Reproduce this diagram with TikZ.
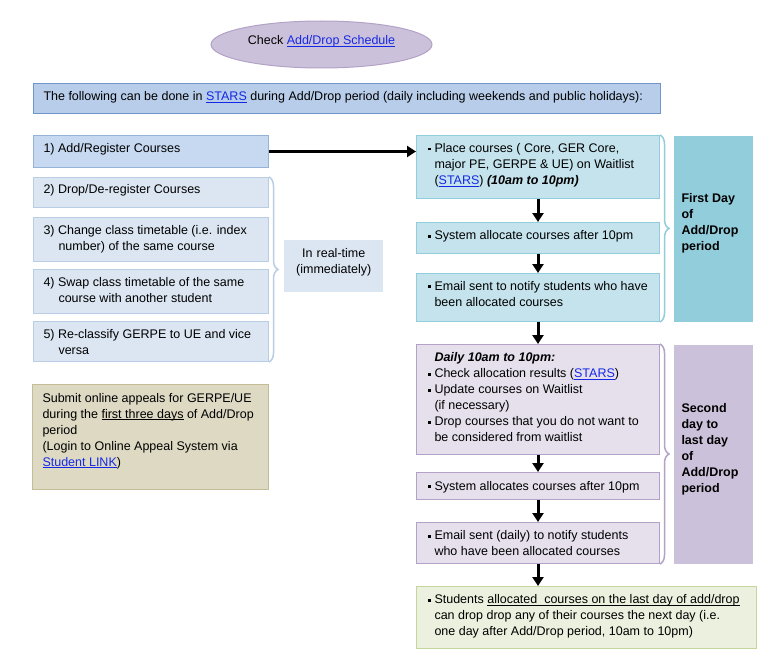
\documentclass[tikz,border=0pt]{standalone}
\usepackage{fontspec}
\setmainfont{Liberation Sans}
\usetikzlibrary{arrows.meta, shapes.geometric, decorations.pathreplacing}

\definecolor{linkblue}{RGB}{20,40,230}
\definecolor{topfill}{RGB}{183,205,234}
\definecolor{topline}{RGB}{110,150,205}
\definecolor{onefill}{RGB}{198,217,241}
\definecolor{oneline}{RGB}{149,179,215}
\definecolor{rtfill}{RGB}{220,230,242}
\definecolor{rtline}{RGB}{185,205,229}
\definecolor{apfill}{RGB}{221,217,195}
\definecolor{apline}{RGB}{196,189,151}
\definecolor{wlfill}{RGB}{196,227,236}
\definecolor{wlline}{RGB}{146,205,220}
\definecolor{dyfill}{RGB}{229,224,236}
\definecolor{dyline}{RGB}{179,162,199}
\definecolor{lavfill}{RGB}{204,193,218}
\definecolor{lsfill}{RGB}{235,241,222}
\definecolor{lsline}{RGB}{195,214,155}

\newcommand{\uln}[1]{\setbox0\hbox{#1}\rlap{\rule[-2pt]{\wd0}{0.7pt}}\box0\relax}
\newcommand{\lnk}[1]{\textcolor{linkblue}{\uln{#1}}}
\newcommand{\sq}{\makebox[7pt][l]{\rule[2pt]{3pt}{3pt}}}
\newcommand{\ind}{\hspace*{7pt}}
\newcommand{\nind}{\hspace*{15pt}}

\begin{document}
\begin{tikzpicture}[x=1pt, y=-1pt,
    every node/.style={font=\fontsize{12.5}{16}\selectfont},
    box/.style={draw, anchor=north west, align=flush left, line width=1pt,
      inner sep=0pt, execute at begin node={\leftskip=#1}},
    box/.default=10pt,
    regbox/.style={box, fill=rtfill, draw=rtline, text width=235pt},
    wlbox/.style={box=11pt, fill=wlfill, draw=wlline, text width=243pt},
    dybox/.style={box=11pt, fill=dyfill, draw=dyline, text width=243pt},
    sidebox/.style={box=8pt, draw=none, text width=79pt},
    flow/.style={line width=3pt, -{Triangle[width=11pt,length=9pt]}},
    curly/.style={decorate, decoration={brace, amplitude=9pt}, line width=1.5pt}]

  \path[fill=white] (0,0) rectangle (769,661);

  % Schedule bubble and heading
  \node[ellipse, draw=dyline, fill=lavfill, line width=1pt, minimum width=221pt,
    minimum height=47pt, text height=10pt, text depth=10pt] (sched) at (321.5,44.5)
    {Check \lnk{Add/Drop Schedule}};

  \node[box, fill=topfill, draw=topline, text width=627pt, text height=17.5pt,
    text depth=12.5pt] (head) at (33,83)
    {The following can be done in \lnk{STARS} during Add/Drop period (daily including weekends and public holidays):};

  % Left column
  \node[box, fill=onefill, draw=oneline, text width=235pt, text height=17pt,
    text depth=15pt] (b1) at (33,135) {1) Add/Register Courses};
  \node[regbox, text height=16pt, text depth=14pt] (b2) at (33,177)
    {2) Drop/De-register Courses};
  \node[regbox, text height=17pt, text depth=27pt] (b3) at (33,217)
    {3) Change class timetable (i.e. index\\ \nind number) of the same course};
  \node[regbox, text height=17pt, text depth=27pt] (b4) at (33,269)
    {4) Swap class timetable of the same\\ \nind course with another student};
  \node[regbox, text height=17pt, text depth=23pt] (b5) at (33,321)
    {5) Re-classify GERPE to UE and vice\\ \nind versa};

  \node[fill=rtfill, anchor=north west, align=center, inner sep=0pt, text width=99pt,
    text height=17pt, text depth=35pt] (rt) at (284,240)
    {In real-time\\ (immediately)};

  \node[box, fill=apfill, draw=apline, text width=236pt, text height=17.5pt,
    text depth=87.5pt] (appeal) at (32,384)
    {Submit online appeals for GERPE/UE\\ during the \uln{first three days} of Add/Drop\\ period\\
     (Login to Online Appeal System via\\ \lnk{Student LINK})};

  % First day column
  \node[wlbox, text height=17pt, text depth=46pt] (p1) at (416,135)
    {\sq Place courses ( Core, GER Core,\\ \ind major PE, GERPE \& UE) on Waitlist\\
     \ind(\lnk{STARS}) \textbf{\textit{(10am to 10pm)}}};
  \node[wlbox, text height=17pt, text depth=14pt] (p2) at (416,222)
    {\sq System allocate courses after 10pm};
  \node[wlbox, text height=16.5pt, text depth=31.5pt] (p3) at (416,273)
    {\sq Email sent to notify students who have\\ \ind been allocated courses};

  \node[sidebox, fill=wlline, text height=67pt, text depth=119pt] (first) at (673,135)
    {\bfseries First Day\\ of\\ Add/Drop\\ period};

  % Remaining days column
  \node[dybox, text height=17pt, text depth=93pt] (q1) at (416,344)
    {\ind\textbf{\textit{Daily 10am to 10pm:}}\\ \sq Check allocation results (\lnk{STARS})\\
     \sq Update courses on Waitlist\\ \ind(if necessary)\\
     \sq Drop courses that you do not want to\\ \ind be considered from waitlist};
  \node[dybox, text height=17.5pt, text depth=9.5pt] (q2) at (416,472)
    {\sq System allocates courses after 10pm};
  \node[dybox, text height=17pt, text depth=24pt] (q3) at (416,522)
    {\sq Email sent (daily) to notify students\\ \ind who have been allocated courses};

  \node[sidebox, fill=lavfill, text height=68pt, text depth=151pt] (second) at (673,344)
    {\bfseries Second\\ day to\\ last day\\ of\\ Add/Drop\\ period};

  \node[box=11pt, fill=lsfill, draw=lsline, text width=340pt,
    text height=17pt, text depth=45pt] (last) at (416,586)
    {\sq Students \uln{allocated\ \ courses on the last day of add/drop}\\
     \ind can drop drop any of their courses the next day (i.e.\\
     \ind one day after Add/Drop period, 10am to 10pm)};

  % Arrows
  \draw[flow] (b1.east) -- (b1.east -| p1.west);
  \draw[flow] (p1.south) -- (p2.north);
  \draw[flow] (p2.south) -- (p3.north);
  \draw[flow] (p3.south) -- (q1.north);
  \draw[flow] (q1.south) -- (q2.north);
  \draw[flow] (q2.south) -- (q3.north);
  \draw[flow] (q3.south) -- (q3.south |- last.north);

  % Braces
  \draw[curly, rtline] (b2.north east) -- (b5.south east);
  \draw[curly, wlline] (p1.north east) -- (p3.south east);
  \draw[curly, dyline] (q1.north east) -- (q3.south east);

\end{tikzpicture}
\end{document}
